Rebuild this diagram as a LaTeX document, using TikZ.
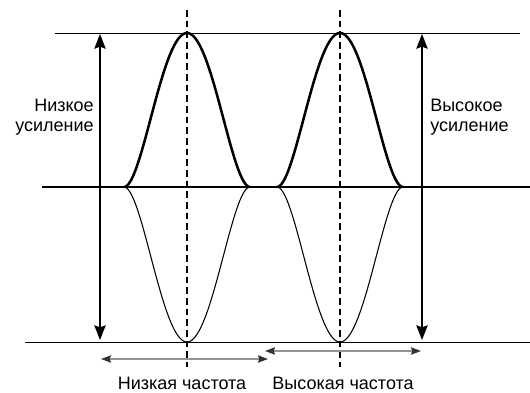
\documentclass[tikz,border=0pt]{standalone}
\usepackage{fontspec}
\setmainfont{Liberation Sans}
\usetikzlibrary{arrows.meta}

\tikzset{
    gainarrow/.style={line width=1.3pt, {Stealth[length=11pt,width=8.5pt,inset=1.5pt]}-{Stealth[length=11pt,width=8.5pt,inset=1.5pt]}},
    freqarrow/.style={line width=1.2pt, gray!85, {Stealth[length=7.5pt,width=5.5pt,inset=1pt,black!80]}-{Stealth[length=7.5pt,width=5.5pt,inset=1pt,black!80]}},
    guide/.style={line width=1pt, dash pattern=on 5pt off 3pt},
    label/.style={font=\fontsize{13.5}{15}\selectfont, align=center, inner sep=0pt}
}

\begin{document}
\begin{tikzpicture}[x=0.75pt, y=-0.75pt]
    \useasboundingbox (0,0) rectangle (530,392);

    % Reference levels
    \draw[line width=0.7pt] (55,33) -- (520,33);
    \draw[line width=2.1pt] (42,187) -- (530,187);
    \draw[line width=0.7pt] (25,342) -- (530,342);

    % Centre lines of the two pulses
    \foreach \c in {187, 340} {
        \draw[guide] (\c,10) -- (\c,367);
    }

    % Pulses: thick above the axis, thin mirror below
    \foreach \c in {187, 340} {
        \draw[line width=1.9pt] plot[domain=-63:63, samples=81, smooth]
            ({\c+\x}, {187-154*(1-(\x/63)*(\x/63))*(1-(\x/63)*(\x/63))});
        \draw[line width=0.8pt] plot[domain=-63:63, samples=81, smooth]
            ({\c+\x}, {187+155*(1-(\x/63)*(\x/63))*(1-(\x/63)*(\x/63))});
    }

    % Gain arrows
    \coordinate (lowTop) at (100,34);
    \coordinate (lowBot) at (100,340);
    \coordinate (highTop) at (422,34);
    \coordinate (highBot) at (422,340);
    \draw[gainarrow] (lowBot) -- (lowTop);
    \draw[gainarrow] (highBot) -- (highTop);

    \node[label, align=right, anchor=east] (lowGain) at (94,117) {Низкое\\усиление};
    \node[label, align=left, anchor=west] (highGain) at (430,117) {Высокое\\усиление};

    % Frequency spans
    \coordinate (lowL) at (101,359);
    \coordinate (lowR) at (268,359);
    \coordinate (highL) at (265,351);
    \coordinate (highR) at (421,351);
    \draw[freqarrow] (lowL) -- (lowR);
    \draw[freqarrow] (highL) -- (highR);

    \node[label] (lowFreq) at (182,383) {Низкая частота};
    \node[label] (highFreq) at (343,383) {Высокая частота};
\end{tikzpicture}
\end{document}
